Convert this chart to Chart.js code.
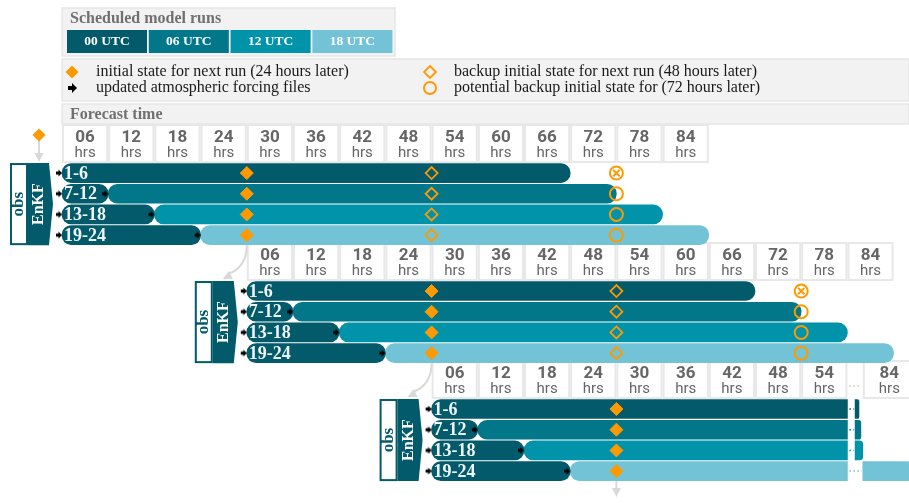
<!DOCTYPE html>
<html>
<head>
<meta charset="utf-8">
<title>Forecast cycle schedule</title>
<script src="https://cdn.jsdelivr.net/npm/chart.js"></script>
<style>
  html, body { margin: 0; padding: 0; background: #fff; }
  #wrap { width: 909px; height: 503px; }
</style>
</head>
<body>
<div id="wrap"><canvas id="cycleChart" width="909" height="503"></canvas></div>
<script>
// model runs of one day and their ensemble members
const runs = ['00 UTC', '06 UTC', '12 UTC', '18 UTC'];
const members = ['1-6', '7-12', '13-18', '19-24'];
const runStart = [0, 6, 12, 18];   // hours after the EnKF analysis
const runEnd = [66, 72, 78, 84];
const cycleStart = [0, 24, 48];    // next cycle starts one day later
const tickHours = [6, 12, 18, 24, 30, 36, 42, 48, 54, 60, 66, 72, 78, 84];
const tickLabels = ['06', '12', '18', '24', '30', '36', '42', '48', '54', '60', '66', '72', '78', '84'];
const initialHour = 24;    // initial state for next run
const backupHour = 48;     // backup initial state
const potentialHour = 72;  // potential backup initial state
const lastCycleCut = 54;   // third cycle is drawn with a break after 54 hrs

const runColors = ['#035a6a', '#02778a', '#0093aa', '#73c3d6'];
const orange = '#ff9900';
const rowsPerCycle = 5.7;

const rowValue = (c, r) => c * rowsPerCycle + r;

// lead time on the broken axis of the last cycle
function broken(h) {
    if (h <= lastCycleCut) return h;
    if (h <= 78) return lastCycleCut + 1 + (h - lastCycleCut) / 24;
    return lastCycleCut + 2 + (h - 78) * 1.15;
}

// small black arrow = updated forcing files
const arrowImg = document.createElement('canvas');
arrowImg.width = 14;
arrowImg.height = 8;
const a = arrowImg.getContext('2d');
a.fillStyle = '#000';
a.fillRect(1, 2.5, 3, 3);
a.beginPath();
a.moveTo(3.5, 0.5);
a.lineTo(7, 4);
a.lineTo(3.5, 7.5);
a.closePath();
a.fill();

const leadBars = [];               // waiting part, 00 UTC colour
const runBars = runs.map(() => []);
const initPts = [], backupPts = [], potentialPts = [], lostPts = [], forcingPts = [];

cycleStart.forEach((off, c) => {
    const last = c === cycleStart.length - 1;
    members.forEach((m, r) => {
        const y = rowValue(c, r);
        if (runStart[r] > 0) leadBars.push({ x: [off, off + runStart[r]], y: y });
        if (!last) {
            runBars[r].push({ x: [off + runStart[r], off + runEnd[r]], y: y });
        } else {
            runBars[r].push({ x: [off + runStart[r], off + lastCycleCut], y: y, cut: 'right' });
            const tailFrom = runEnd[r] > 78 ? broken(78) : lastCycleCut + 1;
            runBars[r].push({ x: [off + tailFrom, off + broken(runEnd[r])], y: y, cut: 'left' });
        }
        forcingPts.push({ x: off, y: y });
        if (runStart[r] > 0) forcingPts.push({ x: off + runStart[r], y: y });
        initPts.push({ x: off + initialHour, y: y });
        if (!last) {
            backupPts.push({ x: off + backupHour, y: y });
            potentialPts.push({ x: off + potentialHour, y: y });
            if (runEnd[r] < potentialHour) lostPts.push({ x: off + potentialHour, y: y });
        }
    });
});

function radius(ctx) {
    const R = 10;
    const cut = ctx.raw && ctx.raw.cut;
    if (cut === 'right') return { topLeft: R, bottomLeft: R, topRight: 0, bottomRight: 0 };
    if (cut === 'left') return { topLeft: 0, bottomLeft: 0, topRight: R, bottomRight: R };
    return R;
}

function barSet(label, data, color) {
    return {
        type: 'bar',
        label: label,
        indexAxis: 'y',
        data: data,
        backgroundColor: color,
        borderWidth: 0,
        borderSkipped: false,
        borderRadius: radius,
        barThickness: 19,
        grouped: false,
        order: 5
    };
}

const datasets = [
    barSet('lead', leadBars, runColors[0]),
    ...runs.map((run, i) => barSet(run, runBars[i], runColors[i])),
    { type: 'scatter', label: 'forcing', data: forcingPts, pointStyle: arrowImg, pointRadius: 4, order: 1 },
    { type: 'scatter', label: 'initial', data: initPts, pointStyle: 'rectRot', pointRadius: 6.5,
      backgroundColor: orange, borderColor: orange, borderWidth: 1, order: 0 },
    { type: 'scatter', label: 'backup', data: backupPts, pointStyle: 'rectRot', pointRadius: 6,
      backgroundColor: 'rgba(0,0,0,0)', borderColor: orange, borderWidth: 1.8, order: 0 },
    { type: 'scatter', label: 'potential', data: potentialPts, pointStyle: 'circle', pointRadius: 6.5,
      backgroundColor: 'rgba(0,0,0,0)', borderColor: orange, borderWidth: 2, order: 0 },
    { type: 'scatter', label: 'lost', data: lostPts, pointStyle: 'crossRot', pointRadius: 4.5,
      backgroundColor: orange, borderColor: orange, borderWidth: 2, order: 0 }
];

function diamond(ctx, cx, cy, r, filled) {
    ctx.beginPath();
    ctx.moveTo(cx, cy - r);
    ctx.lineTo(cx + r, cy);
    ctx.lineTo(cx, cy + r);
    ctx.lineTo(cx - r, cy);
    ctx.closePath();
    if (filled) {
        ctx.fillStyle = orange;
        ctx.fill();
    } else {
        ctx.strokeStyle = orange;
        ctx.lineWidth = 1.8;
        ctx.stroke();
    }
}

function box(ctx, x0, y0, w, h) {
    ctx.fillStyle = '#f2f2f2';
    ctx.fillRect(x0, y0, w, h);
    ctx.strokeStyle = '#e6e6e6';
    ctx.lineWidth = 1.5;
    ctx.strokeRect(x0, y0, w, h);
}

function arrowHead(ctx, tx, ty, dx, dy) {
    const len = Math.hypot(dx, dy);
    const ux = dx / len, uy = dy / len;
    ctx.beginPath();
    ctx.moveTo(tx, ty);
    ctx.lineTo(tx - ux * 9 - uy * 4.5, ty - uy * 9 + ux * 4.5);
    ctx.lineTo(tx - ux * 9 + uy * 4.5, ty - uy * 9 - ux * 4.5);
    ctx.closePath();
    ctx.fill();
}

function drawHeader(ctx) {
    ctx.textBaseline = 'middle';
    box(ctx, 62, 8, 333, 48);
    ctx.fillStyle = '#707070';
    ctx.textAlign = 'left';
    ctx.font = 'bold 16px "Liberation Serif"';
    ctx.fillText('Scheduled model runs', 70, 19);
    runs.forEach((run, i) => {
        const cx = 67 + i * 81.8;
        ctx.fillStyle = runColors[i];
        ctx.fillRect(cx, 30, 80, 23);
        ctx.fillStyle = '#ffffff';
        ctx.textAlign = 'center';
        ctx.font = 'bold 13.5px "Liberation Serif"';
        ctx.fillText(run, cx + 40, 41.5);
    });

    box(ctx, 62, 59, 847, 42);
    diamond(ctx, 72, 72, 6.5, true);
    ctx.fillStyle = '#000';
    ctx.fillRect(68, 86, 5, 4);
    ctx.beginPath();
    ctx.moveTo(72, 83);
    ctx.lineTo(77, 88);
    ctx.lineTo(72, 93);
    ctx.closePath();
    ctx.fill();
    diamond(ctx, 430, 72, 6, false);
    ctx.beginPath();
    ctx.arc(430, 88, 6, 0, Math.PI * 2);
    ctx.strokeStyle = orange;
    ctx.lineWidth = 2;
    ctx.stroke();
    ctx.fillStyle = '#1a1a1a';
    ctx.textAlign = 'left';
    ctx.font = '16px "Liberation Serif"';
    ctx.fillText('initial state for next run (24 hours later)', 96, 72);
    ctx.fillText('updated atmospheric forcing files', 96, 88);
    ctx.fillText('backup initial state for next run (48 hours later)', 454, 72);
    ctx.fillText('potential backup initial state for (72 hours later)', 454, 88);

    box(ctx, 62, 104, 847, 20);
    ctx.fillStyle = '#707070';
    ctx.font = 'bold 16px "Liberation Serif"';
    ctx.fillText('Forecast time', 70, 114.5);
}

function drawTicks(ctx, x, y, off, c) {
    const last = c === cycleStart.length - 1;
    const top = y.getPixelForValue(rowValue(c, 0)) - 48;
    const pos = h => x.getPixelForValue(off + (last ? broken(h) : h));
    ctx.textAlign = 'center';
    ctx.textBaseline = 'middle';
    tickHours.forEach((h, i) => {
        if (last && h > lastCycleCut && h !== tickHours[tickHours.length - 1]) return;
        const left = pos(h - 6) + 1, right = pos(h) - 1;
        ctx.fillStyle = '#ffffff';
        ctx.fillRect(left, top, right - left, 37);
        ctx.strokeStyle = '#e8e8e8';
        ctx.lineWidth = 2;
        ctx.strokeRect(left, top, right - left, 37);
        ctx.fillStyle = '#666666';
        ctx.font = 'bold 17px Roboto';
        ctx.fillText(tickLabels[i], (left + right) / 2, top + 13);
        ctx.font = '15px Roboto';
        ctx.fillText('hrs', (left + right) / 2, top + 28);
    });
    if (last) {
        ctx.strokeStyle = '#c8c8c8';
        ctx.lineWidth = 1.5;
        ctx.setLineDash([1.5, 2.5]);
        ctx.beginPath();
        ctx.moveTo(pos(lastCycleCut) + 2, top + 25);
        ctx.lineTo(pos(78) - 2, top + 25);
        ctx.stroke();
        ctx.setLineDash([]);
    }
}

function drawEnKF(ctx, x, y, off, c) {
    const X0 = x.getPixelForValue(off);
    const T = y.getPixelForValue(rowValue(c, 0)) - 10;
    const B = y.getPixelForValue(rowValue(c, members.length - 1)) + 10;
    const mid = (T + B) / 2;
    ctx.fillStyle = '#ffffff';
    ctx.fillRect(X0 - 51, T + 1, 16, B - T - 2);
    ctx.strokeStyle = runColors[0];
    ctx.lineWidth = 2;
    ctx.strokeRect(X0 - 51, T + 1, 16, B - T - 2);
    ctx.fillStyle = runColors[0];
    ctx.beginPath();
    ctx.moveTo(X0 - 34, T);
    ctx.lineTo(X0 - 13, T);
    ctx.lineTo(X0 - 9, mid);
    ctx.lineTo(X0 - 13, B);
    ctx.lineTo(X0 - 34, B);
    ctx.closePath();
    ctx.fill();

    ctx.save();
    ctx.textAlign = 'center';
    ctx.textBaseline = 'middle';
    ctx.translate(X0 - 43, mid);
    ctx.rotate(-Math.PI / 2);
    ctx.fillStyle = runColors[0];
    ctx.font = 'bold 17px "Liberation Serif"';
    ctx.fillText('obs', 0, 0);
    ctx.restore();
    ctx.save();
    ctx.textAlign = 'center';
    ctx.textBaseline = 'middle';
    ctx.translate(X0 - 23, mid);
    ctx.rotate(-Math.PI / 2);
    ctx.fillStyle = '#ffffff';
    ctx.font = 'bold 16px "Liberation Serif"';
    ctx.fillText('EnKF', 0, 0);
    ctx.restore();
}

function drawLinks(ctx, x, y) {
    ctx.strokeStyle = '#d9d9d9';
    ctx.fillStyle = '#d9d9d9';
    ctx.lineWidth = 2;
    const top = c => y.getPixelForValue(rowValue(c, 0)) - 10;
    const bottom = c => y.getPixelForValue(rowValue(c, members.length - 1)) + 10;

    // state coming from the previous day
    const ex = x.getPixelForValue(cycleStart[0]) - 23;
    ctx.beginPath();
    ctx.moveTo(ex, top(0) - 22);
    ctx.lineTo(ex, top(0) - 6);
    ctx.stroke();
    arrowHead(ctx, ex, top(0) - 1, 0, 1);
    diamond(ctx, ex, top(0) - 28, 6.5, true);

    ctx.strokeStyle = '#d9d9d9';
    ctx.fillStyle = '#d9d9d9';
    ctx.lineWidth = 2;
    for (let c = 0; c < cycleStart.length; c++) {
        const sx = x.getPixelForValue(cycleStart[c] + initialHour);
        const sy = bottom(c);
        if (c < cycleStart.length - 1) {
            const tx = x.getPixelForValue(cycleStart[c + 1]) - 24;
            const ty = top(c + 1) - 2;
            const cy = sy + 22;
            ctx.beginPath();
            ctx.moveTo(sx, sy);
            ctx.quadraticCurveTo(sx, cy, tx + 5, ty - 5);
            ctx.stroke();
            arrowHead(ctx, tx, ty, tx - sx, ty - cy);
        } else {
            ctx.beginPath();
            ctx.moveTo(sx, sy);
            ctx.lineTo(sx, sy + 10);
            ctx.stroke();
            arrowHead(ctx, sx, sy + 16, 0, 1);
        }
    }
}

const schematic = {
    id: 'schematic',
    beforeDatasetsDraw(chart) {
        const { ctx, scales: { x, y } } = chart;
        ctx.save();
        drawHeader(ctx);
        cycleStart.forEach((off, c) => {
            drawTicks(ctx, x, y, off, c);
            drawEnKF(ctx, x, y, off, c);
        });
        drawLinks(ctx, x, y);
        ctx.restore();
    },
    afterDatasetsDraw(chart) {
        const { ctx, scales: { x, y } } = chart;
        ctx.save();
        ctx.textAlign = 'left';
        ctx.textBaseline = 'middle';
        ctx.font = 'bold 18px "Liberation Serif"';
        ctx.fillStyle = '#eef6f8';
        cycleStart.forEach((off, c) => {
            members.forEach((m, r) => {
                ctx.fillText(m, x.getPixelForValue(off) + 2, y.getPixelForValue(rowValue(c, r)) + 1);
            });
        });
        // dotted break in the last cycle
        const off = cycleStart[cycleStart.length - 1];
        const c = cycleStart.length - 1;
        ctx.lineWidth = 1.5;
        ctx.setLineDash([1.5, 2.5]);
        members.forEach((m, r) => {
            const yy = y.getPixelForValue(rowValue(c, r));
            const to = runEnd[r] > 78 ? broken(78) : lastCycleCut + 1;
            ctx.strokeStyle = runColors[r];
            ctx.beginPath();
            ctx.moveTo(x.getPixelForValue(off + lastCycleCut) + 2, yy);
            ctx.lineTo(x.getPixelForValue(off + to) - 1, yy);
            ctx.stroke();
        });
        ctx.restore();
    }
};

new Chart(document.getElementById('cycleChart'), {
    type: 'bar',
    data: { datasets: datasets },
    options: {
        responsive: false,
        animation: false,
        events: [],
        layout: { padding: 0, autoPadding: false },
        scales: {
            x: { type: 'linear', min: -8.05, max: 110, offset: false, grace: 0, display: false },
            y: { type: 'linear', min: -8.36, max: 15.94, offset: false, grace: 0, reverse: true, display: false }
        },
        plugins: {
            legend: { display: false },
            tooltip: { enabled: false }
        }
    },
    plugins: [schematic]
});
</script>
</body>
</html>
